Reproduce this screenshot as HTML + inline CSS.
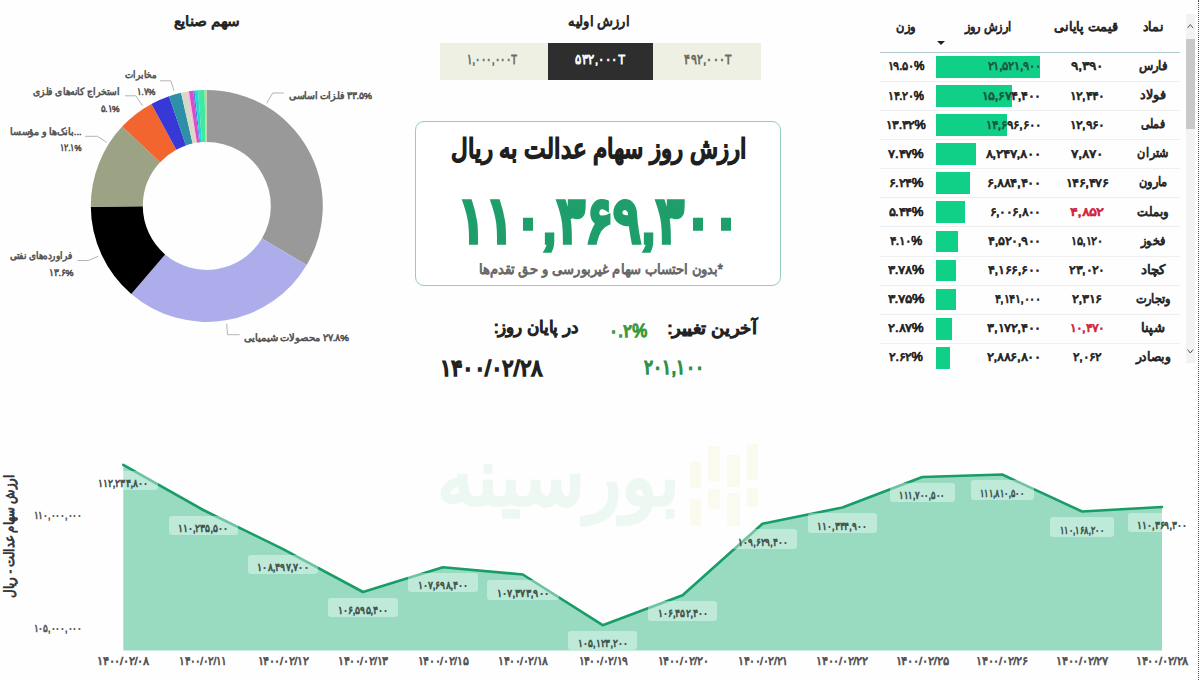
<!DOCTYPE html>
<html lang="fa">
<head>
<meta charset="utf-8">
<title>ارزش روز سهام عدالت</title>
<style>
html,body{margin:0;padding:0}
body{width:1200px;height:680px;overflow:hidden;background:#fefefe;position:relative;font-family:"Liberation Sans",sans-serif;font-weight:normal;color:#222}
.t{position:absolute;white-space:nowrap;font-weight:normal;margin:0;padding:0;-webkit-text-stroke:0.06em currentColor}
svg.bg{position:absolute;left:0;top:0}
.tab{position:absolute;top:43px;height:36.7px;background:#eef0e4}
.tab.on{background:#2e2e2e}
.card{position:absolute;left:415.3px;top:121.3px;width:366.2px;height:164.9px;border:1.3px solid #93d0b5;border-radius:9px;box-sizing:border-box;background:#fff}
.hl{position:absolute;left:880px;width:300px;height:1.2px;background:#b3c9d0}
.rl{position:absolute;left:880px;width:300px;height:1px;background:#efefef}
.bar{position:absolute;left:936.3px;height:21.8px;background:#10cf87}
.bar.ov{opacity:.3}
.sortar{position:absolute;left:937px;top:41px;width:0;height:0;border-left:4px solid transparent;border-right:4px solid transparent;border-top:4.5px solid #222}
.sb{position:absolute;left:1186px;top:14px;width:8.5px;height:349px;background:#f3f3f3}
.sbt{position:absolute;left:1186px;top:39px;width:8.5px;height:90px;background:#c9c9c9}
.edge{position:absolute;left:1198px;top:0;width:0;height:680px;border-left:1.5px dotted #555}
.dl{position:absolute;height:19.5px;border-radius:3px;background:rgba(255,255,255,.38)}
.wmb{position:absolute;background:#fbfaee;border-radius:1.5px}
</style>
</head>
<body>
<div class="t" id="wm" style="left:558.5px;top:445.6px;transform-origin:50% 59.4px;transform:translateX(-50%) scale(1.328,1.42);font-size:56px;height:80px;line-height:80px;color:#edf8f3;-webkit-text-stroke:2.6px #edf8f3;direction:rtl">بورسینه</div><div class="wmb" style="left:689.9px;width:11.2px;top:461.5px;height:26.5px"></div><div class="wmb" style="left:689.9px;width:11.2px;top:498.6px;height:27.4px"></div><div class="wmb" style="left:707.7px;width:12px;top:445.6px;height:35.8px"></div><div class="wmb" style="left:707.7px;width:12px;top:489.3px;height:19.9px"></div><div class="wmb" style="left:727px;width:12.5px;top:454.9px;height:31.8px"></div><div class="wmb" style="left:727px;width:12.5px;top:493.3px;height:32.7px"></div><div class="wmb" style="left:746.8px;width:11.2px;top:444.3px;height:35.7px"></div><div class="wmb" style="left:746.8px;width:11.2px;top:488px;height:18.5px"></div>
<svg class="bg" width="1200" height="680" viewBox="0 0 1200 680">
<path d="M206.80 89.90A116 116 0 0 1 306.67 264.91L261.90 238.46A64 64 0 0 0 206.80 141.90Z" fill="#999999"/>
<path d="M306.67 264.91A116 116 0 0 1 131.26 293.93L165.12 254.47A64 64 0 0 0 261.90 238.46Z" fill="#adadeb"/>
<path d="M131.26 293.93A116 116 0 0 1 90.80 206.74L142.80 206.36A64 64 0 0 0 165.12 254.47Z" fill="#000000"/>
<path d="M90.80 206.74A116 116 0 0 1 122.15 126.59L160.10 162.14A64 64 0 0 0 142.80 206.36Z" fill="#9ca385"/>
<path d="M122.15 126.59A116 116 0 0 1 151.44 103.96L176.26 149.66A64 64 0 0 0 160.10 162.14Z" fill="#f2652f"/>
<path d="M151.44 103.96A116 116 0 0 1 169.03 96.22L185.96 145.39A64 64 0 0 0 176.26 149.66Z" fill="#3838d6"/>
<path d="M169.03 96.22A116 116 0 0 1 181.07 92.79L192.61 143.49A64 64 0 0 0 185.96 145.39Z" fill="#2e8fa8"/>
<path d="M181.07 92.79A116 116 0 0 1 186.79 91.64L195.76 142.86A64 64 0 0 0 192.61 143.49Z" fill="#d6dac4"/>
<path d="M186.79 91.64A116 116 0 0 1 188.95 91.28L196.95 142.66A64 64 0 0 0 195.76 142.86Z" fill="#f5bcdc"/>
<path d="M188.95 91.28A116 116 0 0 1 193.13 90.71L199.26 142.35A64 64 0 0 0 196.95 142.66Z" fill="#d74fc2"/>
<path d="M193.13 90.71A116 116 0 0 1 194.58 90.55L200.06 142.26A64 64 0 0 0 199.26 142.35Z" fill="#4a78ee"/>
<path d="M194.58 90.55A116 116 0 0 1 198.06 90.23L201.98 142.08A64 64 0 0 0 200.06 142.26Z" fill="#24d9d0"/>
<path d="M198.06 90.23A116 116 0 0 1 204.61 89.92L205.59 141.91A64 64 0 0 0 201.98 142.08Z" fill="#40e8a0"/>
<path d="M204.61 89.92A116 116 0 0 1 206.80 89.90L206.80 141.90A64 64 0 0 0 205.59 141.91Z" fill="#b9d0a8"/>
<polyline points="266.7,103.3 272.7,93 283.7,93" fill="none" stroke="#b4b4b4" stroke-width="1"/>
<polyline points="160,80.8 170.8,80.8 174,90.8" fill="none" stroke="#b4b4b4" stroke-width="1"/>
<polyline points="125,95.8 135.8,95.8 142.5,105.8" fill="none" stroke="#b4b4b4" stroke-width="1"/>
<polyline points="85,136.3 97.5,136.3 106.7,142.5" fill="none" stroke="#b4b4b4" stroke-width="1"/>
<polyline points="77.5,260.5 88.3,260.5 98.3,256.2" fill="none" stroke="#b4b4b4" stroke-width="1"/>
<polyline points="226.7,323.8 227.5,334.7 239.7,334.7" fill="none" stroke="#b4b4b4" stroke-width="1"/>
<path d="M123.3 464.9 L203.2 510.0 L283.1 549.2 L363.0 592.0 L442.9 567.2 L522.8 574.5 L602.7 625.2 L682.6 595.3 L762.5 523.7 L842.4 507.5 L922.3 477.0 L1002.2 474.5 L1082.1 511.5 L1162.0 507.0 L1162.0 650.5 L123.3 650.5Z" fill="#98dbc0"/>
<path d="M123.3 464.9 L203.2 510.0 L283.1 549.2 L363.0 592.0 L442.9 567.2 L522.8 574.5 L602.7 625.2 L682.6 595.3 L762.5 523.7 L842.4 507.5 L922.3 477.0 L1002.2 474.5 L1082.1 511.5 L1162.0 507.0" fill="none" stroke="#189d69" stroke-width="2.6" stroke-linejoin="round" stroke-linecap="round"/>
</svg>
<div class="tab" style="left:440px;width:107.5px"></div><div class="tab on" style="left:547.5px;width:105px"></div><div class="tab" style="left:652.5px;width:108px"></div>
<div class="card"></div>
<div class="sb"></div><div class="sbt"></div>
<svg class="bg" width="1200" height="680" viewBox="0 0 1200 680"><polyline points="1187.6,28 1190.3,24.6 1193,28" fill="none" stroke="#555" stroke-width="1"/><polyline points="1187.6,349.6 1190.3,353 1193,349.6" fill="none" stroke="#555" stroke-width="1"/></svg>
<div class="hl" style="top:51.7px"></div>
<div class="sortar"></div>
<div class="bar" style="top:55.9px;width:104.2px"></div>
<div class="rl" style="top:80.9px"></div>
<div class="bar" style="top:85.0px;width:75.9px"></div>
<div class="rl" style="top:110.0px"></div>
<div class="bar" style="top:114.1px;width:71.2px"></div>
<div class="rl" style="top:139.1px"></div>
<div class="bar" style="top:143.2px;width:39.9px"></div>
<div class="rl" style="top:168.2px"></div>
<div class="bar" style="top:172.3px;width:33.3px"></div>
<div class="rl" style="top:197.3px"></div>
<div class="bar" style="top:201.4px;width:29.1px"></div>
<div class="rl" style="top:226.4px"></div>
<div class="bar" style="top:230.5px;width:21.9px"></div>
<div class="rl" style="top:255.5px"></div>
<div class="bar" style="top:259.6px;width:20.2px"></div>
<div class="rl" style="top:284.6px"></div>
<div class="bar" style="top:288.7px;width:20.0px"></div>
<div class="rl" style="top:313.7px"></div>
<div class="bar" style="top:317.8px;width:15.4px"></div>
<div class="rl" style="top:342.8px"></div>
<div class="bar" style="top:346.9px;width:14.0px"></div>
<div class="dl" style="left:88.4px;width:69.8px;top:470.6px"></div>
<div class="dl" style="left:168.6px;width:69.2px;top:515.7px"></div>
<div class="dl" style="left:247.9px;width:70.5px;top:554.9px"></div>
<div class="dl" style="left:328.0px;width:70.0px;top:597.7px"></div>
<div class="dl" style="left:408.0px;width:69.8px;top:572.9px"></div>
<div class="dl" style="left:487.0px;width:71.5px;top:580.2px"></div>
<div class="dl" style="left:568.3px;width:68.8px;top:630.9px"></div>
<div class="dl" style="left:647.9px;width:69.5px;top:601.0px"></div>
<div class="dl" style="left:728.4px;width:68.2px;top:529.4px"></div>
<div class="dl" style="left:808.2px;width:68.5px;top:513.2px"></div>
<div class="dl" style="left:890.0px;width:64.5px;top:482.7px"></div>
<div class="dl" style="left:970.5px;width:63.5px;top:480.2px"></div>
<div class="dl" style="left:1050.4px;width:63.5px;top:517.2px"></div>
<div class="dl" style="left:1127.5px;width:68.9px;top:512.7px"></div>
<div class="t" id="dt" style="top:10.6px;height:21px;line-height:21px;font-size:14px;color:#222;direction:rtl;left:206.5px;transform:translateX(-50%) scaleX(1.081);">سهم صنایع</div>
<div class="t" id="l1" style="top:88.4px;height:15px;line-height:15px;font-size:9.8px;color:#525252;direction:rtl;right:828.0px;transform:scaleX(0.940);transform-origin:100% 50%;">۳۳.۵% فلزات اساسی</div>
<div class="t" id="l2" style="top:67.3px;height:15px;line-height:15px;font-size:9.8px;color:#525252;direction:rtl;right:1044.2px;transform:scaleX(0.880);transform-origin:100% 50%;">مخابرات</div>
<div class="t" id="l2p" style="top:84.1px;height:15px;line-height:15px;font-size:9.8px;color:#525252;direction:ltr;right:1044.8px;transform:scaleX(0.841);transform-origin:100% 50%;">۱.۷%</div>
<div class="t" id="l3" style="top:83.6px;height:15px;line-height:15px;font-size:9.8px;color:#525252;direction:rtl;right:1080.3px;transform:scaleX(0.918);transform-origin:100% 50%;">استخراج کانه‌های فلزی</div>
<div class="t" id="l3p" style="top:100.9px;height:15px;line-height:15px;font-size:9.8px;color:#525252;direction:ltr;right:1080.3px;transform:scaleX(0.864);transform-origin:100% 50%;">۵.۱%</div>
<div class="t" id="l4" style="top:123.9px;height:15px;line-height:15px;font-size:9.8px;color:#525252;direction:ltr;right:1118.3px;transform:scaleX(0.957);transform-origin:100% 50%;">بانک‌ها و مؤسسا...</div>
<div class="t" id="l4p" style="top:140.4px;height:15px;line-height:15px;font-size:9.8px;color:#525252;direction:ltr;right:1119.0px;transform:scaleX(0.807);transform-origin:100% 50%;">۱۲.۱%</div>
<div class="t" id="l5" style="top:247.7px;height:15px;line-height:15px;font-size:9.8px;color:#525252;direction:rtl;right:1127.0px;transform:scaleX(0.892);transform-origin:100% 50%;">فراورده‌های نفتی</div>
<div class="t" id="l5p" style="top:265.4px;height:15px;line-height:15px;font-size:9.8px;color:#525252;direction:ltr;right:1127.0px;transform:scaleX(0.915);transform-origin:100% 50%;">۱۳.۶%</div>
<div class="t" id="l6" style="top:330.3px;height:15px;line-height:15px;font-size:9.8px;color:#525252;direction:rtl;right:851.2px;transform:scaleX(0.989);transform-origin:100% 50%;">۲۷.۸% محصولات شیمیایی</div>
<div class="t" id="tt" style="top:11.1px;height:21px;line-height:21px;font-size:14px;color:#222;direction:rtl;left:599.3px;transform:translateX(-50%) scaleX(0.932);">ارزش اولیه</div>
<div class="t" id="tb1" style="top:49.7px;height:20px;line-height:20px;font-size:13.5px;color:#6c6c60;direction:ltr;left:492.1px;transform:translateX(-50%) scaleX(0.696);">۱,۰۰۰,۰۰۰T</div>
<div class="t" id="tb2" style="top:49.7px;height:20px;line-height:20px;font-size:13.5px;color:#ffffff;direction:ltr;left:600.0px;transform:translateX(-50%) scaleX(0.836);">۵۳۲,۰۰۰T</div>
<div class="t" id="tb3" style="top:49.7px;height:20px;line-height:20px;font-size:13.5px;color:#6c6c60;direction:ltr;left:708.0px;transform:translateX(-50%) scaleX(0.787);">۴۹۲,۰۰۰T</div>
<div class="t" id="ct" style="top:128.8px;height:40px;line-height:40px;font-size:26.5px;color:#1f1f1f;direction:rtl;left:599.0px;transform:translateX(-50%) scaleX(0.851);-webkit-text-stroke-width:0.075em;">ارزش روز سهام عدالت به ریال</div>
<div class="t" id="big" style="top:172.9px;height:94px;line-height:94px;font-size:63px;color:#1e9e6a;direction:ltr;left:599.0px;transform:translateX(-50%) scaleX(0.827);-webkit-text-stroke-width:0.085em;">۱۱۰,۳۶۹,۳۰۰</div>
<div class="t" id="sub" style="top:258.7px;height:21px;line-height:21px;font-size:13.8px;color:#666;direction:rtl;left:600.5px;transform:translateX(-50%) scaleX(0.935);">*بدون احتساب سهام غیربورسی و حق تقدم‌ها</div>
<div class="t" id="k1" style="top:315.5px;height:25px;line-height:25px;font-size:16.5px;color:#222;direction:rtl;right:443.0px;transform:scaleX(1.064);transform-origin:100% 50%;-webkit-text-stroke-width:0.075em;">آخرین تغییر:</div>
<div class="t" id="k2" style="top:317.5px;height:27px;line-height:27px;font-size:18px;color:#3c9b3e;direction:ltr;left:628.3px;transform:translateX(-50%) scaleX(0.934);-webkit-text-stroke-width:0.075em;">۰.۲%</div>
<div class="t" id="k3" style="top:315.3px;height:25px;line-height:25px;font-size:16.5px;color:#222;direction:rtl;right:621.5px;transform:scaleX(0.989);transform-origin:100% 50%;-webkit-text-stroke-width:0.075em;">در پایان روز:</div>
<div class="t" id="k4" style="top:352.1px;height:30px;line-height:30px;font-size:20.3px;color:#2f9048;direction:ltr;left:673.7px;transform:translateX(-50%) scaleX(0.847);-webkit-text-stroke-width:0.075em;">۲۰۱,۱۰۰</div>
<div class="t" id="k5" style="top:351.5px;height:34px;line-height:34px;font-size:22.5px;color:#222;direction:ltr;left:491.0px;transform:translateX(-50%) scaleX(0.944);-webkit-text-stroke-width:0.075em;">۱۴۰۰/۰۲/۲۸</div>
<div class="t" id="h1" style="top:17.1px;height:20px;line-height:20px;font-size:13.2px;color:#222;direction:rtl;left:1153.0px;transform:translateX(-50%) scaleX(0.950);">نماد</div>
<div class="t" id="h2" style="top:17.1px;height:20px;line-height:20px;font-size:13.2px;color:#222;direction:rtl;left:1085.5px;transform:translateX(-50%) scaleX(0.973);">قیمت پایانی</div>
<div class="t" id="h3" style="top:17.1px;height:20px;line-height:20px;font-size:13.2px;color:#222;direction:rtl;left:988.3px;transform:translateX(-50%) scaleX(0.865);">ارزش روز</div>
<div class="t" id="h4" style="top:17.1px;height:20px;line-height:20px;font-size:13.2px;color:#222;direction:rtl;left:905.7px;transform:translateX(-50%) scaleX(0.882);">وزن</div>
<div class="t" id="n0" style="top:57.0px;height:19px;line-height:19px;font-size:12.6px;color:#222;direction:rtl;left:1153.3px;transform:translateX(-50%) scaleX(0.900);">فارس</div>
<div class="t" id="p0" style="top:57.4px;height:18px;line-height:18px;font-size:12.2px;color:#222;direction:ltr;left:1087.0px;transform:translateX(-50%) scaleX(1.152);">۹,۳۹۰</div>
<div class="t" id="v0" style="top:57.4px;height:18px;line-height:18px;font-size:12.2px;color:#222;direction:ltr;right:159.2px;transform:scaleX(0.972);transform-origin:100% 50%;">۲۱,۵۲۱,۹۰۰</div>
<div class="t" id="w0" style="top:57.4px;height:18px;line-height:18px;font-size:12.2px;color:#222;direction:ltr;left:906.0px;transform:translateX(-50%) scaleX(0.961);">۱۹.۵۰%</div>
<div class="t" id="n1" style="top:86.1px;height:19px;line-height:19px;font-size:12.6px;color:#222;direction:rtl;left:1153.3px;transform:translateX(-50%) scaleX(0.981);">فولاد</div>
<div class="t" id="p1" style="top:86.5px;height:18px;line-height:18px;font-size:12.2px;color:#222;direction:ltr;left:1087.0px;transform:translateX(-50%) scaleX(1.048);">۱۲,۴۴۰</div>
<div class="t" id="v1" style="top:86.5px;height:18px;line-height:18px;font-size:12.2px;color:#222;direction:ltr;right:159.2px;transform:scaleX(1.074);transform-origin:100% 50%;">۱۵,۶۷۴,۴۰۰</div>
<div class="t" id="w1" style="top:86.5px;height:18px;line-height:18px;font-size:12.2px;color:#222;direction:ltr;left:906.0px;transform:translateX(-50%) scaleX(0.939);">۱۴.۲۰%</div>
<div class="t" id="n2" style="top:115.2px;height:19px;line-height:19px;font-size:12.6px;color:#222;direction:rtl;left:1153.3px;transform:translateX(-50%) scaleX(0.834);">فملی</div>
<div class="t" id="p2" style="top:115.6px;height:18px;line-height:18px;font-size:12.2px;color:#222;direction:ltr;left:1087.0px;transform:translateX(-50%) scaleX(1.048);">۱۲,۹۶۰</div>
<div class="t" id="v2" style="top:115.6px;height:18px;line-height:18px;font-size:12.2px;color:#222;direction:ltr;right:159.2px;transform:scaleX(1.007);transform-origin:100% 50%;">۱۴,۶۹۶,۶۰۰</div>
<div class="t" id="w2" style="top:115.6px;height:18px;line-height:18px;font-size:12.2px;color:#222;direction:ltr;left:906.0px;transform:translateX(-50%) scaleX(1.034);">۱۳.۳۲%</div>
<div class="t" id="n3" style="top:144.3px;height:19px;line-height:19px;font-size:12.6px;color:#222;direction:rtl;left:1153.3px;transform:translateX(-50%) scaleX(0.864);">شتران</div>
<div class="t" id="p3" style="top:144.7px;height:18px;line-height:18px;font-size:12.2px;color:#222;direction:ltr;left:1087.0px;transform:translateX(-50%) scaleX(1.152);">۷,۸۷۰</div>
<div class="t" id="v3" style="top:144.7px;height:18px;line-height:18px;font-size:12.2px;color:#222;direction:ltr;right:159.2px;transform:scaleX(1.133);transform-origin:100% 50%;">۸,۲۴۷,۸۰۰</div>
<div class="t" id="w3" style="top:144.7px;height:18px;line-height:18px;font-size:12.2px;color:#222;direction:ltr;left:906.0px;transform:translateX(-50%) scaleX(1.091);">۷.۴۷%</div>
<div class="t" id="n4" style="top:173.4px;height:19px;line-height:19px;font-size:12.6px;color:#222;direction:rtl;left:1153.3px;transform:translateX(-50%) scaleX(0.873);">مارون</div>
<div class="t" id="p4" style="top:173.8px;height:18px;line-height:18px;font-size:12.2px;color:#222;direction:ltr;left:1087.0px;transform:translateX(-50%) scaleX(1.079);">۱۴۶,۴۷۶</div>
<div class="t" id="v4" style="top:173.8px;height:18px;line-height:18px;font-size:12.2px;color:#222;direction:ltr;right:159.2px;transform:scaleX(1.106);transform-origin:100% 50%;">۶,۸۸۴,۴۰۰</div>
<div class="t" id="w4" style="top:173.8px;height:18px;line-height:18px;font-size:12.2px;color:#222;direction:ltr;left:906.0px;transform:translateX(-50%) scaleX(1.075);">۶.۲۴%</div>
<div class="t" id="n5" style="top:202.5px;height:19px;line-height:19px;font-size:12.6px;color:#222;direction:rtl;left:1153.3px;transform:translateX(-50%) scaleX(0.889);">وبملت</div>
<div class="t" id="p5" style="top:202.9px;height:18px;line-height:18px;font-size:12.2px;color:#d0243a;direction:ltr;left:1087.0px;transform:translateX(-50%) scaleX(1.233);">۴,۸۵۲</div>
<div class="t" id="v5" style="top:202.9px;height:18px;line-height:18px;font-size:12.2px;color:#222;direction:ltr;right:159.2px;transform:scaleX(1.048);transform-origin:100% 50%;">۶,۰۰۶,۸۰۰</div>
<div class="t" id="w5" style="top:202.9px;height:18px;line-height:18px;font-size:12.2px;color:#222;direction:ltr;left:906.0px;transform:translateX(-50%) scaleX(1.075);">۵.۴۴%</div>
<div class="t" id="n6" style="top:231.6px;height:19px;line-height:19px;font-size:12.6px;color:#222;direction:rtl;left:1153.3px;transform:translateX(-50%) scaleX(0.867);">فخوز</div>
<div class="t" id="p6" style="top:232.0px;height:18px;line-height:18px;font-size:12.2px;color:#222;direction:ltr;left:1087.0px;transform:translateX(-50%) scaleX(0.942);">۱۵,۱۲۰</div>
<div class="t" id="v6" style="top:232.0px;height:18px;line-height:18px;font-size:12.2px;color:#222;direction:ltr;right:159.2px;transform:scaleX(1.077);transform-origin:100% 50%;">۴,۵۲۰,۹۰۰</div>
<div class="t" id="w6" style="top:232.0px;height:18px;line-height:18px;font-size:12.2px;color:#222;direction:ltr;left:906.0px;transform:translateX(-50%) scaleX(1.012);">۴.۱۰%</div>
<div class="t" id="n7" style="top:260.7px;height:19px;line-height:19px;font-size:12.6px;color:#222;direction:rtl;left:1153.3px;transform:translateX(-50%) scaleX(1.033);">کچاد</div>
<div class="t" id="p7" style="top:261.1px;height:18px;line-height:18px;font-size:12.2px;color:#222;direction:ltr;left:1087.0px;transform:translateX(-50%) scaleX(1.055);">۲۳,۰۲۰</div>
<div class="t" id="v7" style="top:261.1px;height:18px;line-height:18px;font-size:12.2px;color:#222;direction:ltr;right:159.2px;transform:scaleX(1.079);transform-origin:100% 50%;">۴,۱۶۶,۶۰۰</div>
<div class="t" id="w7" style="top:261.1px;height:18px;line-height:18px;font-size:12.2px;color:#222;direction:ltr;left:906.0px;transform:translateX(-50%) scaleX(1.119);">۳.۷۸%</div>
<div class="t" id="n8" style="top:289.8px;height:19px;line-height:19px;font-size:12.6px;color:#222;direction:rtl;left:1153.3px;transform:translateX(-50%) scaleX(0.872);">وتجارت</div>
<div class="t" id="p8" style="top:290.2px;height:18px;line-height:18px;font-size:12.2px;color:#222;direction:ltr;left:1087.0px;transform:translateX(-50%) scaleX(1.089);">۲,۳۱۶</div>
<div class="t" id="v8" style="top:290.2px;height:18px;line-height:18px;font-size:12.2px;color:#222;direction:ltr;right:159.2px;transform:scaleX(0.946);transform-origin:100% 50%;">۴,۱۴۱,۰۰۰</div>
<div class="t" id="w8" style="top:290.2px;height:18px;line-height:18px;font-size:12.2px;color:#222;direction:ltr;left:906.0px;transform:translateX(-50%) scaleX(1.144);">۳.۷۵%</div>
<div class="t" id="n9" style="top:318.9px;height:19px;line-height:19px;font-size:12.6px;color:#222;direction:rtl;left:1153.3px;transform:translateX(-50%) scaleX(1.017);">شپنا</div>
<div class="t" id="p9" style="top:319.3px;height:18px;line-height:18px;font-size:12.2px;color:#d0243a;direction:ltr;left:1087.0px;transform:translateX(-50%) scaleX(1.048);">۱۰,۴۷۰</div>
<div class="t" id="v9" style="top:319.3px;height:18px;line-height:18px;font-size:12.2px;color:#222;direction:ltr;right:159.2px;transform:scaleX(1.094);transform-origin:100% 50%;">۳,۱۷۲,۴۰۰</div>
<div class="t" id="w9" style="top:319.3px;height:18px;line-height:18px;font-size:12.2px;color:#222;direction:ltr;left:906.0px;transform:translateX(-50%) scaleX(1.091);">۲.۸۷%</div>
<div class="t" id="n10" style="top:348.0px;height:19px;line-height:19px;font-size:12.6px;color:#222;direction:rtl;left:1153.3px;transform:translateX(-50%) scaleX(0.943);">وبصادر</div>
<div class="t" id="p10" style="top:348.4px;height:18px;line-height:18px;font-size:12.2px;color:#222;direction:ltr;left:1087.0px;transform:translateX(-50%) scaleX(1.019);">۲,۰۶۲</div>
<div class="t" id="v10" style="top:348.4px;height:18px;line-height:18px;font-size:12.2px;color:#222;direction:ltr;right:159.2px;transform:scaleX(1.106);transform-origin:100% 50%;">۲,۸۸۶,۸۰۰</div>
<div class="t" id="w10" style="top:348.4px;height:18px;line-height:18px;font-size:12.2px;color:#222;direction:ltr;left:906.0px;transform:translateX(-50%) scaleX(1.041);">۲.۶۲%</div>
<div class="t" id="d0" style="top:474.9px;height:16px;line-height:16px;font-size:11px;color:#3d4f47;direction:ltr;left:123.3px;transform:translateX(-50%) scaleX(0.841);">۱۱۲,۲۳۴,۸۰۰</div>
<div class="t" id="x0" style="top:653.0px;height:17px;line-height:17px;font-size:11.5px;color:#505050;direction:ltr;left:123.3px;transform:translateX(-50%) scaleX(0.954);">۱۴۰۰/۰۲/۰۸</div>
<div class="t" id="d1" style="top:520.0px;height:16px;line-height:16px;font-size:11px;color:#3d4f47;direction:ltr;left:203.2px;transform:translateX(-50%) scaleX(0.833);">۱۱۰,۲۳۵,۵۰۰</div>
<div class="t" id="x1" style="top:653.0px;height:17px;line-height:17px;font-size:11.5px;color:#505050;direction:ltr;left:203.2px;transform:translateX(-50%) scaleX(0.870);">۱۴۰۰/۰۲/۱۱</div>
<div class="t" id="d2" style="top:559.2px;height:16px;line-height:16px;font-size:11px;color:#3d4f47;direction:ltr;left:283.1px;transform:translateX(-50%) scaleX(0.853);">۱۰۸,۴۹۷,۷۰۰</div>
<div class="t" id="x2" style="top:653.0px;height:17px;line-height:17px;font-size:11.5px;color:#505050;direction:ltr;left:283.1px;transform:translateX(-50%) scaleX(0.935);">۱۴۰۰/۰۲/۱۲</div>
<div class="t" id="d3" style="top:602.0px;height:16px;line-height:16px;font-size:11px;color:#3d4f47;direction:ltr;left:363.0px;transform:translateX(-50%) scaleX(0.845);">۱۰۶,۵۹۵,۴۰۰</div>
<div class="t" id="x3" style="top:653.0px;height:17px;line-height:17px;font-size:11.5px;color:#505050;direction:ltr;left:363.0px;transform:translateX(-50%) scaleX(0.920);">۱۴۰۰/۰۲/۱۳</div>
<div class="t" id="d4" style="top:577.2px;height:16px;line-height:16px;font-size:11px;color:#3d4f47;direction:ltr;left:442.9px;transform:translateX(-50%) scaleX(0.841);">۱۰۷,۶۹۸,۴۰۰</div>
<div class="t" id="x4" style="top:653.0px;height:17px;line-height:17px;font-size:11.5px;color:#505050;direction:ltr;left:442.9px;transform:translateX(-50%) scaleX(0.921);">۱۴۰۰/۰۲/۱۵</div>
<div class="t" id="d5" style="top:584.5px;height:16px;line-height:16px;font-size:11px;color:#3d4f47;direction:ltr;left:522.8px;transform:translateX(-50%) scaleX(0.870);">۱۰۷,۳۷۳,۹۰۰</div>
<div class="t" id="x5" style="top:653.0px;height:17px;line-height:17px;font-size:11.5px;color:#505050;direction:ltr;left:522.8px;transform:translateX(-50%) scaleX(0.912);">۱۴۰۰/۰۲/۱۸</div>
<div class="t" id="d6" style="top:635.2px;height:16px;line-height:16px;font-size:11px;color:#3d4f47;direction:ltr;left:602.7px;transform:translateX(-50%) scaleX(0.824);">۱۰۵,۱۲۳,۲۰۰</div>
<div class="t" id="x6" style="top:653.0px;height:17px;line-height:17px;font-size:11.5px;color:#505050;direction:ltr;left:602.7px;transform:translateX(-50%) scaleX(0.898);">۱۴۰۰/۰۲/۱۹</div>
<div class="t" id="d7" style="top:605.3px;height:16px;line-height:16px;font-size:11px;color:#3d4f47;direction:ltr;left:682.6px;transform:translateX(-50%) scaleX(0.837);">۱۰۶,۴۵۲,۴۰۰</div>
<div class="t" id="x7" style="top:653.0px;height:17px;line-height:17px;font-size:11.5px;color:#505050;direction:ltr;left:682.6px;transform:translateX(-50%) scaleX(0.926);">۱۴۰۰/۰۲/۲۰</div>
<div class="t" id="d8" style="top:533.6px;height:16px;line-height:16px;font-size:11px;color:#3d4f47;direction:ltr;left:762.5px;transform:translateX(-50%) scaleX(0.815);">۱۰۹,۶۲۹,۴۰۰</div>
<div class="t" id="x8" style="top:653.0px;height:17px;line-height:17px;font-size:11.5px;color:#505050;direction:ltr;left:762.5px;transform:translateX(-50%) scaleX(0.915);">۱۴۰۰/۰۲/۲۱</div>
<div class="t" id="d9" style="top:517.5px;height:16px;line-height:16px;font-size:11px;color:#3d4f47;direction:ltr;left:842.4px;transform:translateX(-50%) scaleX(0.820);">۱۱۰,۳۴۴,۹۰۰</div>
<div class="t" id="x9" style="top:653.0px;height:17px;line-height:17px;font-size:11.5px;color:#505050;direction:ltr;left:842.4px;transform:translateX(-50%) scaleX(0.941);">۱۴۰۰/۰۲/۲۲</div>
<div class="t" id="d10" style="top:487.0px;height:16px;line-height:16px;font-size:11px;color:#3d4f47;direction:ltr;left:922.3px;transform:translateX(-50%) scaleX(0.753);">۱۱۱,۷۰۰,۵۰۰</div>
<div class="t" id="x10" style="top:653.0px;height:17px;line-height:17px;font-size:11.5px;color:#505050;direction:ltr;left:922.3px;transform:translateX(-50%) scaleX(0.969);">۱۴۰۰/۰۲/۲۵</div>
<div class="t" id="d11" style="top:484.5px;height:16px;line-height:16px;font-size:11px;color:#3d4f47;direction:ltr;left:1002.2px;transform:translateX(-50%) scaleX(0.737);">۱۱۱,۸۱۰,۵۰۰</div>
<div class="t" id="x11" style="top:653.0px;height:17px;line-height:17px;font-size:11.5px;color:#505050;direction:ltr;left:1002.2px;transform:translateX(-50%) scaleX(0.939);">۱۴۰۰/۰۲/۲۶</div>
<div class="t" id="d12" style="top:521.5px;height:16px;line-height:16px;font-size:11px;color:#3d4f47;direction:ltr;left:1082.1px;transform:translateX(-50%) scaleX(0.737);">۱۱۰,۱۶۸,۲۰۰</div>
<div class="t" id="x12" style="top:653.0px;height:17px;line-height:17px;font-size:11.5px;color:#505050;direction:ltr;left:1082.1px;transform:translateX(-50%) scaleX(0.952);">۱۴۰۰/۰۲/۲۷</div>
<div class="t" id="d13" style="top:517.0px;height:16px;line-height:16px;font-size:11px;color:#3d4f47;direction:ltr;left:1162.0px;transform:translateX(-50%) scaleX(0.827);">۱۱۰,۳۶۹,۳۰۰</div>
<div class="t" id="x13" style="top:653.0px;height:17px;line-height:17px;font-size:11.5px;color:#505050;direction:ltr;left:1162.4px;transform:translateX(-50%) scaleX(0.963);">۱۴۰۰/۰۲/۲۸</div>
<div class="t" id="y1" style="top:507.2px;height:16px;line-height:16px;font-size:11px;color:#555;direction:ltr;right:1118.2px;transform:scaleX(0.808);transform-origin:100% 50%;">۱۱۰,۰۰۰,۰۰۰</div>
<div class="t" id="y2" style="top:619.9px;height:16px;line-height:16px;font-size:11px;color:#555;direction:ltr;right:1118.2px;transform:scaleX(0.808);transform-origin:100% 50%;">۱۰۵,۰۰۰,۰۰۰</div>
<div class="bar ov" style="top:55.9px;width:104.2px"></div>
<div class="bar ov" style="top:85.0px;width:75.9px"></div>
<div class="bar ov" style="top:114.1px;width:71.2px"></div>
<div class="bar ov" style="top:143.2px;width:39.9px"></div>
<div class="bar ov" style="top:172.3px;width:33.3px"></div>
<div class="bar ov" style="top:201.4px;width:29.1px"></div>
<div class="bar ov" style="top:230.5px;width:21.9px"></div>
<div class="bar ov" style="top:259.6px;width:20.2px"></div>
<div class="bar ov" style="top:288.7px;width:20.0px"></div>
<div class="bar ov" style="top:317.8px;width:15.4px"></div>
<div class="bar ov" style="top:346.9px;width:14.0px"></div>
<div class="t" id="yt" style="left:10.2px;top:536px;font-size:13.5px;color:#333;height:18px;line-height:18px;transform:translate(-50%,-50%) rotate(-90deg) scaleX(0.836);direction:rtl">ارزش سهام عدالت - ریال</div>
<div class="edge"></div>
</body>
</html>
